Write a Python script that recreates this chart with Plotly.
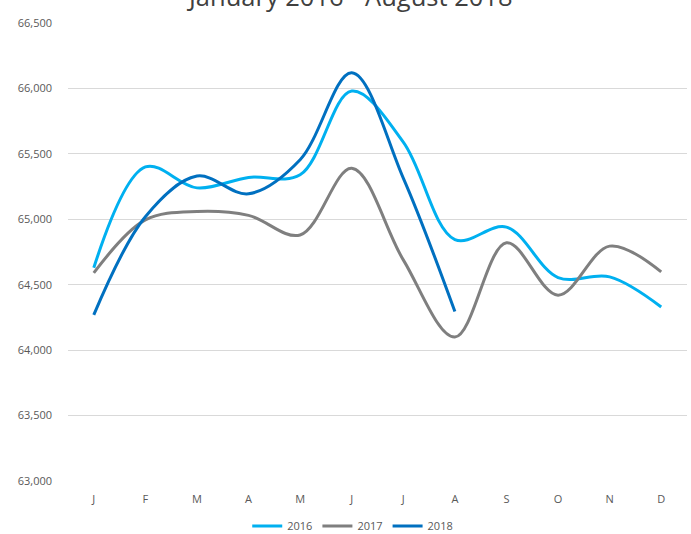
import plotly.graph_objects as go

months = ["J", "F", "M", "A", "M", "J", "J", "A", "S", "O", "N", "D"]
month_ids = list(range(12))
series_names = ["2016", "2017", "2018"]
values_2016 = [64630, 65400, 65240, 65320, 65340, 65980, 65590, 64845, 64940, 64555, 64560, 64330]
values_2017 = [64590, 64995, 65060, 65030, 64880, 65390, 64690, 64100, 64820, 64420, 64795, 64598]
values_2018 = [64270, 65020, 65330, 65195, 65455, 66120, 65315, 64295]
colors = ["#00B0F0", "#7F7F7F", "#0070C0"]
y_ticks = [63000, 63500, 64000, 64500, 65000, 65500, 66000, 66500]
title_text = "January 2016 - August 2018"

fig = go.Figure()
for name, vals, col in zip(series_names, [values_2016, values_2017, values_2018], colors):
    fig.add_trace(go.Scatter(
        x=month_ids[:len(vals)], y=vals, name=name, mode="lines",
        line=dict(color=col, width=3, shape="spline", smoothing=1.0),
    ))

font_fam = "Open Sans, sans-serif"
fig.update_layout(
    width=691, height=534,
    margin=dict(l=68, r=4, t=23, b=53, autoexpand=False),
    plot_bgcolor="white", paper_bgcolor="white",
    font=dict(family=font_fam, color="#595959", size=11),
    xaxis=dict(range=[-0.5, 11.5], tickmode="array", tickvals=month_ids, ticktext=months,
               showgrid=False, zeroline=False, showline=False, ticks="",
               ticklabelstandoff=10,
               tickfont=dict(size=11, color="#595959")),
    yaxis=dict(range=[63000, 66500], tickmode="array", tickvals=y_ticks,
               ticktext=[f"{v:,}" for v in y_ticks], showgrid=True, gridcolor="#D9D9D9",
               gridwidth=1, zeroline=False, showline=False, ticks="", ticklabelstandoff=15,
               tickfont=dict(size=11, color="#595959")),
    legend=dict(orientation="h", x=0.46, xanchor="center", y=-0.098, yanchor="middle",
                font=dict(size=11, color="#595959"), itemwidth=30, tracegroupgap=0),
    showlegend=True,
    annotations=[dict(text=title_text, xref="paper", yref="paper", x=0.455, y=1.059,
                      xanchor="center", yanchor="middle", showarrow=False,
                      font=dict(size=25.5, color="#404040", family=font_fam))],
)
fig.write_html("out.html", config={"displayModeBar": False},
               post_script="document.body.style.margin='0';")
